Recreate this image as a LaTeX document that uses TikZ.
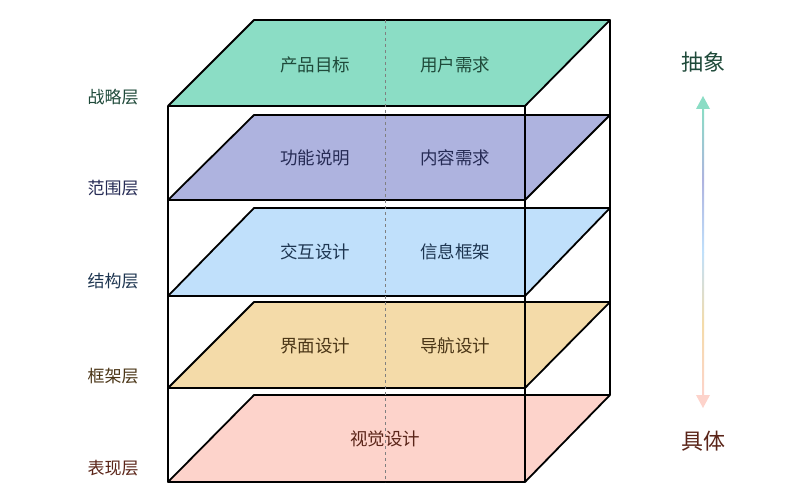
\documentclass[tikz,border=0pt]{standalone}
\usepackage{fontspec}
\setmainfont{Noto Sans CJK SC}
\begin{document}
\begin{tikzpicture}[x=1pt,y=-1pt,
  layer/.style={draw=black,line width=1.8pt,line join=round},
  edge/.style={draw=black,line width=1.8pt},
  txt/.style={font=\fontsize{17.5}{20}\selectfont},
  side/.style={font=\fontsize{17}{20}\selectfont}]
\useasboundingbox (0,0) rectangle (803,500);
\definecolor{c1}{HTML}{8BDDC5}\definecolor{c2}{HTML}{AEB3DF}
\definecolor{c3}{HTML}{C0E0FB}\definecolor{c4}{HTML}{F4DBA9}
\definecolor{c5}{HTML}{FDD3CB}
\definecolor{t1}{HTML}{1F4A3A}\definecolor{t2}{HTML}{262B55}
\definecolor{t3}{HTML}{1D3550}\definecolor{t4}{HTML}{4A3516}
\definecolor{t5}{HTML}{5A2418}
\draw[edge] (610,20) -- (610,395);
\foreach \t/\b/\c in {395/482/c5,302/388/c4,208/296/c3,115/200/c2,20/106/c1}{
  \filldraw[layer,fill=\c] (168,\b) -- (525,\b) -- (610,\t) -- (254,\t) -- cycle;
}
\draw[gray,dashed,line width=0.6pt] (385,20) -- (385,482);
\draw[edge] (168,106) -- (168,482);
\draw[edge] (525,106) -- (525,482);
\node[side,text=t1] (s1) at (113,97) {战略层};
\node[side,text=t2] (s2) at (113,188) {范围层};
\node[side,text=t3] (s3) at (113,281) {结构层};
\node[side,text=t4] (s4) at (113,376) {框架层};
\node[side,text=t5] (s5) at (113,468) {表现层};
\node[txt,text=t1] (a1) at (315,65) {产品目标};
\node[txt,text=t1] (b1) at (455,65) {用户需求};
\node[txt,text=t2] (a2) at (315,158) {功能说明};
\node[txt,text=t2] (b2) at (455,158) {内容需求};
\node[txt,text=t3] (a3) at (315,252) {交互设计};
\node[txt,text=t3] (b3) at (455,252) {信息框架};
\node[txt,text=t4] (a4) at (315,346) {界面设计};
\node[txt,text=t4] (b4) at (455,346) {导航设计};
\node[txt,text=t5] (a5) at (385,439) {视觉设计};
\node[font=\fontsize{22}{25}\selectfont,text=t1] (up) at (703,62) {抽象};
\node[font=\fontsize{22}{25}\selectfont,text=t5] (dn) at (703,441) {具体};
\shade[top color=c1,bottom color=c3,middle color=c2] (702,108) rectangle (704,252);
\shade[top color=c3,bottom color=c5,middle color=c4] (702,252) rectangle (704,396);
\fill[c1] (696,109) -- (703,96) -- (710,109) -- cycle;
\fill[c5] (696,395) -- (703,408) -- (710,395) -- cycle;
\end{tikzpicture}
\end{document}
